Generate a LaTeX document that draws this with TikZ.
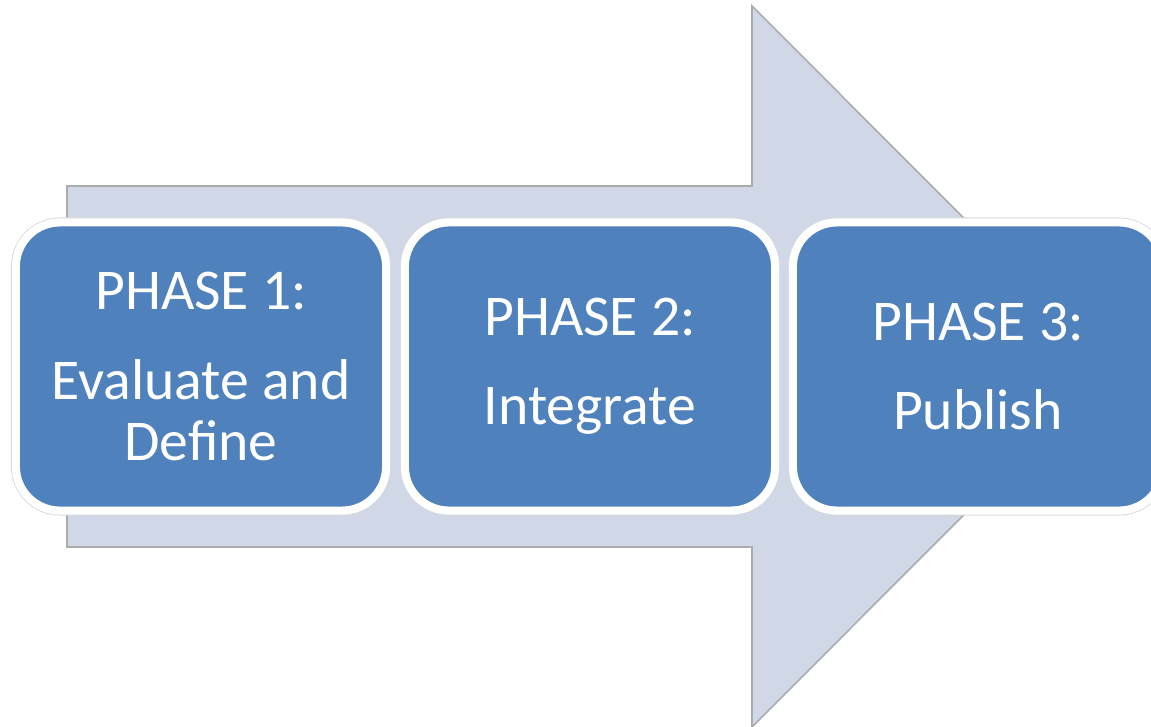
\documentclass[tikz,border=0pt]{standalone}
\usepackage{fontspec}
\setmainfont{Carlito}
\usepackage{tikz}
\usetikzlibrary{positioning}
\definecolor{phaseblue}{HTML}{4F81BD}
\definecolor{arrowfill}{HTML}{D0D8E8}
\definecolor{arrowline}{HTML}{ABABAB}

\begin{document}
\begin{tikzpicture}[x=0.01cm,y=-0.01cm,
  phase/.style={rectangle, rounded corners=0.44cm, fill=phaseblue, draw=white, line width=2.3pt,
    preaction={draw=black!15, line width=2.8pt},
    minimum width=3.7cm, minimum height=2.88cm, inner sep=0pt,
    text=white, align=center, font=\fontsize{16.4}{17.4}\selectfont}]
  \useasboundingbox (0,0) rectangle (1151,727);
  % big arrow behind the phases
  \draw[fill=arrowfill, draw=arrowline, line width=0.45pt] (67,186) -- (752,186) -- (752,6) -- (1112,366.5) -- (752,727) -- (752,547) -- (67,547) -- cycle;

  \draw (201,366.5) node[phase] (p1) {PHASE 1:\\[8pt]Evaluate and\\Define};
  \draw (590,366.5) node[phase] (p2) {PHASE 2:\\[8pt]Integrate};
  \draw (978,366.5) node[phase] (p3) {PHASE 3:\\[8pt]Publish};
\end{tikzpicture}
\end{document}
